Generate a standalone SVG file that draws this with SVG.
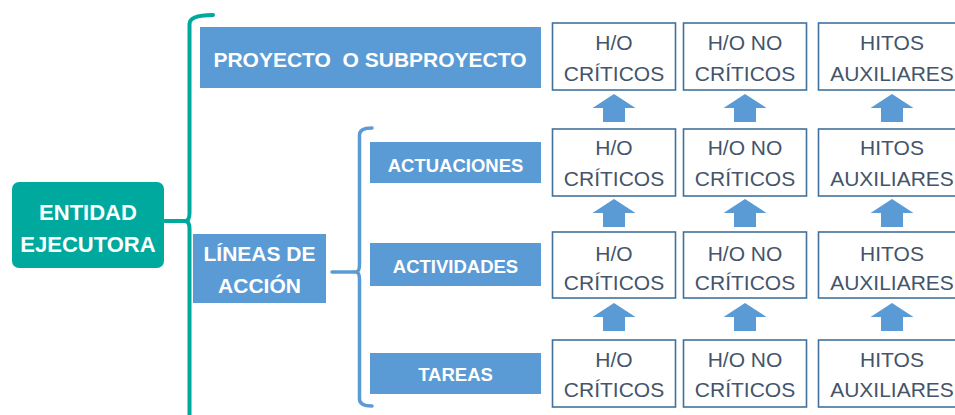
<svg xmlns="http://www.w3.org/2000/svg" width="955" height="415" viewBox="0 0 955 415">
<style>
.lbl{font-family:"Liberation Sans",Arial,sans-serif;font-weight:bold;fill:#FFFFFF;text-anchor:middle;white-space:pre}
.bx{fill:#5B9BD5}
.ho{fill:#FFFFFF;stroke:#41719C;stroke-width:1.6}
.ht{font-family:"Liberation Sans",Arial,sans-serif;font-size:21px;fill:#44546A;text-anchor:middle}
.arr{fill:#5B9BD5}
.teal{fill:none;stroke:#00A99D;stroke-width:4;stroke-linecap:round}
.blu{fill:none;stroke:#5B9BD5;stroke-width:3.5;stroke-linecap:round}
</style>
<rect width="955" height="415" fill="#FFFFFF"/>
<g id="connectors">
<path class="teal" d="M213,15 Q189.5,15 189.5,24 L189.5,213 Q189.5,221 185,221 Q189.5,221 189.5,229 L189.5,420"/>
<path class="teal" d="M165,221 L186,221" stroke-width="3"/>
<path class="blu" d="M372,128 Q359.5,128 359.5,135 L359.5,264 Q359.5,272 356,272 Q359.5,272 359.5,280 L359.5,399 Q359.5,406 372,406"/>
<path class="blu" d="M332,272 L357,272" stroke-width="3"/>
<g id="arrows">
<polygon class="arr" points="614,94 635.5,108 625,108 625,122 603,122 603,108 592.5,108"/>
<polygon class="arr" points="745,94 766.5,108 756,108 756,122 734,122 734,108 723.5,108"/>
<polygon class="arr" points="892,94 913.5,108 903,108 903,122 881,122 881,108 870.5,108"/>
<polygon class="arr" points="614,199 635.5,213 625,213 625,227 603,227 603,213 592.5,213"/>
<polygon class="arr" points="745,199 766.5,213 756,213 756,227 734,227 734,213 723.5,213"/>
<polygon class="arr" points="892,199 913.5,213 903,213 903,227 881,227 881,213 870.5,213"/>
<polygon class="arr" points="614,303 635.5,317 625,317 625,331 603,331 603,317 592.5,317"/>
<polygon class="arr" points="745,303 766.5,317 756,317 756,331 734,331 734,317 723.5,317"/>
<polygon class="arr" points="892,303 913.5,317 903,317 903,331 881,331 881,317 870.5,317"/>
</g>
</g>
<g id="entidad">
<rect x="12" y="182" width="152" height="86" rx="7" fill="#00A99D"/>
<text class="lbl" x="88" y="220" font-size="22">ENTIDAD</text>
<text class="lbl" x="88" y="252" font-size="22">EJECUTORA</text>
</g>
<g id="proyecto">
<rect class="bx" x="200" y="27" width="341" height="61"/>
<text class="lbl" x="370" y="67" font-size="21">PROYECTO  O SUBPROYECTO</text>
</g>
<g id="lineas">
<rect class="bx" x="193" y="234" width="133" height="69"/>
<text class="lbl" x="259.5" y="261" font-size="21">LÍNEAS DE</text>
<text class="lbl" x="259.5" y="293" font-size="21">ACCIÓN</text>
</g>
<g id="actuaciones">
<rect class="bx" x="370" y="142" width="171" height="41"/>
<text class="lbl" x="455.5" y="172" font-size="18.5">ACTUACIONES</text>
</g>
<g id="actividades">
<rect class="bx" x="370" y="243" width="171" height="43"/>
<text class="lbl" x="455.5" y="273" font-size="18.5">ACTIVIDADES</text>
</g>
<g id="tareas">
<rect class="bx" x="370" y="353" width="171" height="41"/>
<text class="lbl" x="455.5" y="381" font-size="18.5">TAREAS</text>
</g>
<g id="r1c1"><rect class="ho" x="552.5" y="23" width="123" height="67"/><text class="ht" x="614" y="50">H/O</text><text class="ht" x="614" y="81">CRÍTICOS</text></g>
<g id="r1c2"><rect class="ho" x="683.5" y="23" width="123" height="67"/><text class="ht" x="745" y="50">H/O NO</text><text class="ht" x="745" y="81">CRÍTICOS</text></g>
<g id="r1c3"><rect class="ho" x="818.5" y="23" width="150" height="67"/><text class="ht" x="892" y="50">HITOS</text><text class="ht" x="892" y="81">AUXILIARES</text></g>
<g id="r2c1"><rect class="ho" x="552.5" y="129" width="123" height="67"/><text class="ht" x="614" y="155">H/O</text><text class="ht" x="614" y="186">CRÍTICOS</text></g>
<g id="r2c2"><rect class="ho" x="683.5" y="129" width="123" height="67"/><text class="ht" x="745" y="155">H/O NO</text><text class="ht" x="745" y="186">CRÍTICOS</text></g>
<g id="r2c3"><rect class="ho" x="818.5" y="129" width="150" height="67"/><text class="ht" x="892" y="155">HITOS</text><text class="ht" x="892" y="186">AUXILIARES</text></g>
<g id="r3c1"><rect class="ho" x="552.5" y="232" width="123" height="66"/><text class="ht" x="614" y="261">H/O</text><text class="ht" x="614" y="290">CRÍTICOS</text></g>
<g id="r3c2"><rect class="ho" x="683.5" y="232" width="123" height="66"/><text class="ht" x="745" y="261">H/O NO</text><text class="ht" x="745" y="290">CRÍTICOS</text></g>
<g id="r3c3"><rect class="ho" x="818.5" y="232" width="150" height="66"/><text class="ht" x="892" y="261">HITOS</text><text class="ht" x="892" y="290">AUXILIARES</text></g>
<g id="r4c1"><rect class="ho" x="552.5" y="340" width="123" height="67"/><text class="ht" x="614" y="367">H/O</text><text class="ht" x="614" y="397">CRÍTICOS</text></g>
<g id="r4c2"><rect class="ho" x="683.5" y="340" width="123" height="67"/><text class="ht" x="745" y="367">H/O NO</text><text class="ht" x="745" y="397">CRÍTICOS</text></g>
<g id="r4c3"><rect class="ho" x="818.5" y="340" width="150" height="67"/><text class="ht" x="892" y="367">HITOS</text><text class="ht" x="892" y="397">AUXILIARES</text></g>
</svg>
